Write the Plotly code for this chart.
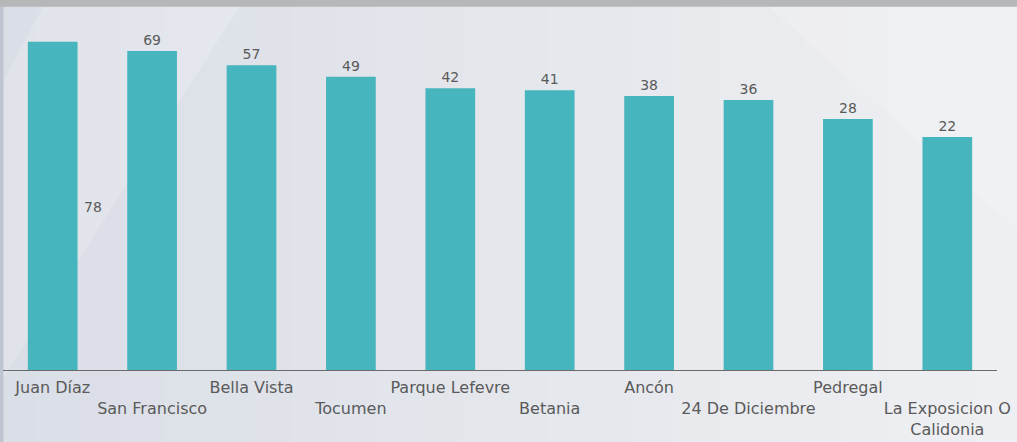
import plotly.graph_objects as go

categories = ["Juan Díaz", "San Francisco", "Bella Vista", "Tocumen", "Parque Lefevre",
              "Betania", "Ancón", "24 De Diciembre", "Pedregal", "La Exposicion O Calidonia"]
values = [78, 69, 57, 49, 42, 41, 38, 36, 28, 22]
tick_labels = ["Juan Díaz", "<br>San Francisco", "Bella Vista", "<br>Tocumen", "Parque Lefevre",
               "<br>Betania", "Ancón", "<br>24 De Diciembre", "Pedregal",
               "<br>La Exposicion O<br>Calidonia"]

bar_text = [""] + [str(v) for v in values[1:]]

fig = go.Figure()
fig.add_trace(go.Bar(
    x=categories, y=values,
    marker=dict(color="#47b5bd", line=dict(width=0)),
    text=bar_text, textposition="outside", cliponaxis=False,
    textfont=dict(family="DejaVu Sans", size=14, color="#5a5a5a"),
    hoverinfo="x+y",
))

shapes = []
# background horizontal gradient (left darker, right lighter)
n = 24
c0 = (0xDA, 0xDE, 0xE6)
c1 = (0xEE, 0xEF, 0xF2)
for i in range(n):
    t = i / (n - 1)
    col = "rgb(%d,%d,%d)" % tuple(round(a + (b - a) * t) for a, b in zip(c0, c1))
    shapes.append(dict(type="rect", xref="paper", yref="paper", layer="below",
                       x0=-0.01 + i / n * 1.03, x1=-0.01 + (i + 1) / n * 1.03 + 0.002,
                       y0=-0.3, y1=1.1, fillcolor=col, line=dict(width=0)))
# diagonal sheen
shapes.append(dict(type="path", xref="paper", yref="paper", layer="below",
                   path="M 0.05 1.1 L 0.25 1.1 L -0.05 -0.25 L -0.2 -0.25 Z",
                   fillcolor="rgba(255,255,255,0.18)", line=dict(width=0)))
shapes.append(dict(type="path", xref="paper", yref="paper", layer="below",
                   path="M 0.75 1.1 L 1.1 1.1 L 1.1 0.2 Z",
                   fillcolor="rgba(255,255,255,0.15)", line=dict(width=0)))
# top gray band
shapes.append(dict(type="rect", xref="paper", yref="paper", layer="above",
                   x0=-0.01, x1=1.03, y0=1.047, y1=1.2, fillcolor="#b6b7b9", line=dict(width=0)))
# left edge strip
shapes.append(dict(type="rect", xref="paper", yref="paper", layer="below",
                   x0=-0.004, x1=0.0005, y0=-0.3, y1=1.1, fillcolor="#bfc5d0", line=dict(width=0)))

fig.update_layout(
    width=1017, height=442,
    margin=dict(l=3, r=20, t=23, b=72),
    paper_bgcolor="#e5e8ed",
    plot_bgcolor="rgba(0,0,0,0)",
    bargap=0.5,
    showlegend=False,
    shapes=shapes,
    font=dict(family="DejaVu Sans", color="#5a5a5a"),
    xaxis=dict(
        tickmode="array", tickvals=categories, ticktext=tick_labels,
        tickangle=0, showgrid=False, zeroline=False,
        showline=True, linecolor="#6a6a6a", linewidth=1,
        ticks="", ticklabelstandoff=3,
        tickfont=dict(family="DejaVu Sans", size=16, color="#5a5a5a"),
    ),
    yaxis=dict(
        type="log", range=[0, 2], visible=False, showgrid=False, zeroline=False,
    ),
    annotations=[dict(
        xref="x", x=categories[0], xshift=40, yref="paper", y=0.47,
        text=str(values[0]), showarrow=False,
        font=dict(family="DejaVu Sans", size=14, color="#5a5a5a"),
    )],
)

fig.write_html("out.html", config={"displayModeBar": False},
               post_script="document.body.style.margin='0';document.body.style.overflow='hidden';")
